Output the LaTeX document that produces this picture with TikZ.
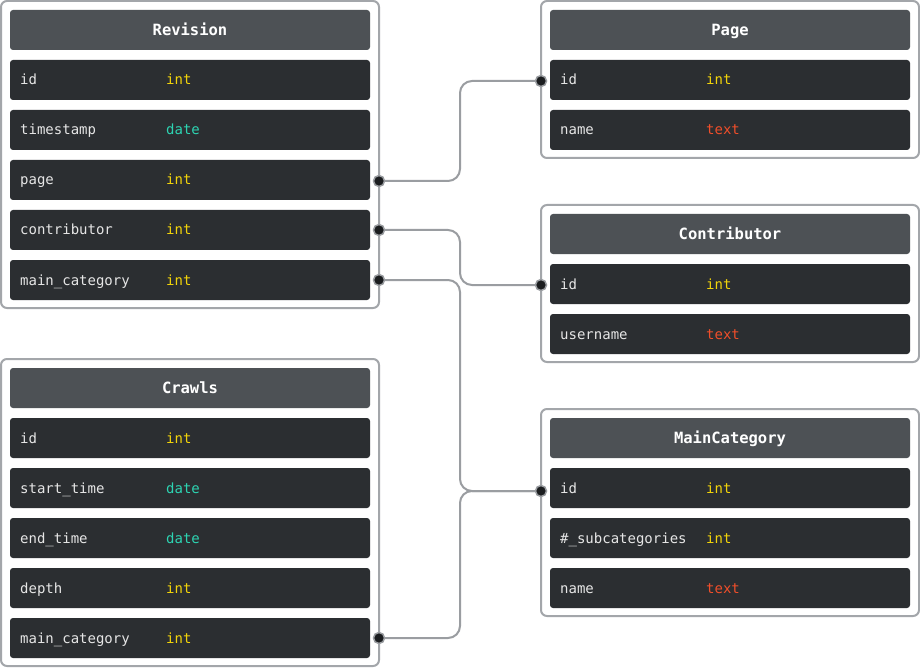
\documentclass[tikz,border=0pt]{standalone}
\usepackage{fontspec}
\setmonofont{DejaVu Sans Mono}
\usetikzlibrary{calc}
\definecolor{hdrfill}{HTML}{4D5155}
\definecolor{rowfill}{HTML}{2B2E31}
\definecolor{bordergray}{HTML}{A3A6AA}
\definecolor{conngray}{HTML}{9A9DA1}
\definecolor{fieldcol}{HTML}{E6E6E6}
\definecolor{intcol}{HTML}{F2D40A}
\definecolor{datecol}{HTML}{2DD4B2}
\definecolor{textcol}{HTML}{F04E2A}
\definecolor{dotfill}{HTML}{1B1D1F}
\newcommand\erow[6]{%
  \node[rowbox] (#1) at (#2,#3) {};
  \node[fieldtxt] at ([xshift=10pt,yshift=-5pt]#1.west) {#4};
  \node[typetxt, text=#6] at ([xshift=156pt,yshift=-5pt]#1.west) {#5};
}
\newcommand\ehead[4]{%
  \node[hdrbox] (#1) at (#2,#3) {};
  \node[hdrtxt] at ([yshift=-5.5pt]#1.center) {#4};
}
\begin{document}
\begin{tikzpicture}[x=1pt,y=-1pt,
  outerbox/.style={draw=bordergray, line width=2pt, rounded corners=6pt, fill=white, anchor=north west, minimum width=378pt, inner sep=0pt, outer sep=0pt},
  rowbox/.style={fill=rowfill, rounded corners=3pt, anchor=north west, minimum width=360pt, minimum height=40pt, inner sep=0pt, outer sep=0pt},
  hdrbox/.style={fill=hdrfill, rounded corners=3pt, anchor=north west, minimum width=360pt, minimum height=40pt, inner sep=0pt, outer sep=0pt},
  hdrtxt/.style={text=white, font=\ttfamily\bfseries\fontsize{15.5}{18}\selectfont, inner sep=0pt, anchor=base},
  fieldtxt/.style={text=fieldcol, font=\ttfamily\fontsize{14}{17}\selectfont, anchor=base west, inner sep=0pt},
  typetxt/.style={font=\ttfamily\fontsize{14}{17}\selectfont, anchor=base west, inner sep=0pt},
  conn/.style={draw=conngray, line width=2pt, rounded corners=12pt},
  enddot/.style={circle, fill=dotfill, draw=conngray, line width=1.5pt, minimum size=11pt, inner sep=0pt}
]
\useasboundingbox (0,0) rectangle (920,668);
\fill[white] (0,0) rectangle (920,668);

% Revision
\node[outerbox, minimum height=307pt] (rev) at (1,1) {};
\ehead{revh}{10}{10}{Revision}
\erow{revid}{10}{60}{id}{int}{intcol}
\erow{revts}{10}{110}{timestamp}{date}{datecol}
\erow{revpage}{10}{160}{page}{int}{intcol}
\erow{revcontrib}{10}{210}{contributor}{int}{intcol}
\erow{revmain}{10}{260}{main\_category}{int}{intcol}

% Crawls
\node[outerbox, minimum height=307pt] (cr) at (1,359) {};
\ehead{crh}{10}{368}{Crawls}
\erow{crid}{10}{418}{id}{int}{intcol}
\erow{crstart}{10}{468}{start\_time}{date}{datecol}
\erow{crend}{10}{518}{end\_time}{date}{datecol}
\erow{crdepth}{10}{568}{depth}{int}{intcol}
\erow{crmain}{10}{618}{main\_category}{int}{intcol}

% Page
\node[outerbox, minimum height=157pt] (pg) at (541,1) {};
\ehead{pgh}{550}{10}{Page}
\erow{pgid}{550}{60}{id}{int}{intcol}
\erow{pgname}{550}{110}{name}{text}{textcol}

% Contributor
\node[outerbox, minimum height=157pt] (co) at (541,205) {};
\ehead{coh}{550}{214}{Contributor}
\erow{coid}{550}{264}{id}{int}{intcol}
\erow{couser}{550}{314}{username}{text}{textcol}

% MainCategory
\node[outerbox, minimum height=207pt] (mc) at (541,409) {};
\ehead{mch}{550}{418}{MainCategory}
\erow{mcid}{550}{468}{id}{int}{intcol}
\erow{mcsub}{550}{518}{\#\_subcategories}{int}{intcol}
\erow{mcname}{550}{568}{name}{text}{textcol}

% connectors
\coordinate (mid) at (460,0);
\coordinate (a1) at ($(revpage.east -| rev.east)+(0,1)$);
\coordinate (b1) at ($(pgid.west -| pg.west)+(0,1)$);
\coordinate (a2) at ($(revcontrib.east -| rev.east)+(0,0)$);
\coordinate (b2) at ($(coid.west -| co.west)+(0,1)$);
\coordinate (a3) at ($(revmain.east -| rev.east)+(0,0)$);
\coordinate (a4) at ($(crmain.east -| cr.east)+(0,0)$);
\coordinate (b3) at ($(mcid.west -| mc.west)+(0,3)$);

\draw[conn] (a1) -- (a1 -| mid) -- (b1 -| mid) -- (b1);
\draw[conn] (a2) -- (a2 -| mid) -- (b2 -| mid) -- (b2);
\draw[conn] (a3) -- (a3 -| mid) -- (b3 -| mid) -- (b3);
\draw[conn] (a4) -- (a4 -| mid) -- (b3 -| mid) -- (b3);

\foreach \p in {a1,b1,a2,b2,a3,a4,b3} \node[enddot] at (\p) {};
\end{tikzpicture}
\end{document}
